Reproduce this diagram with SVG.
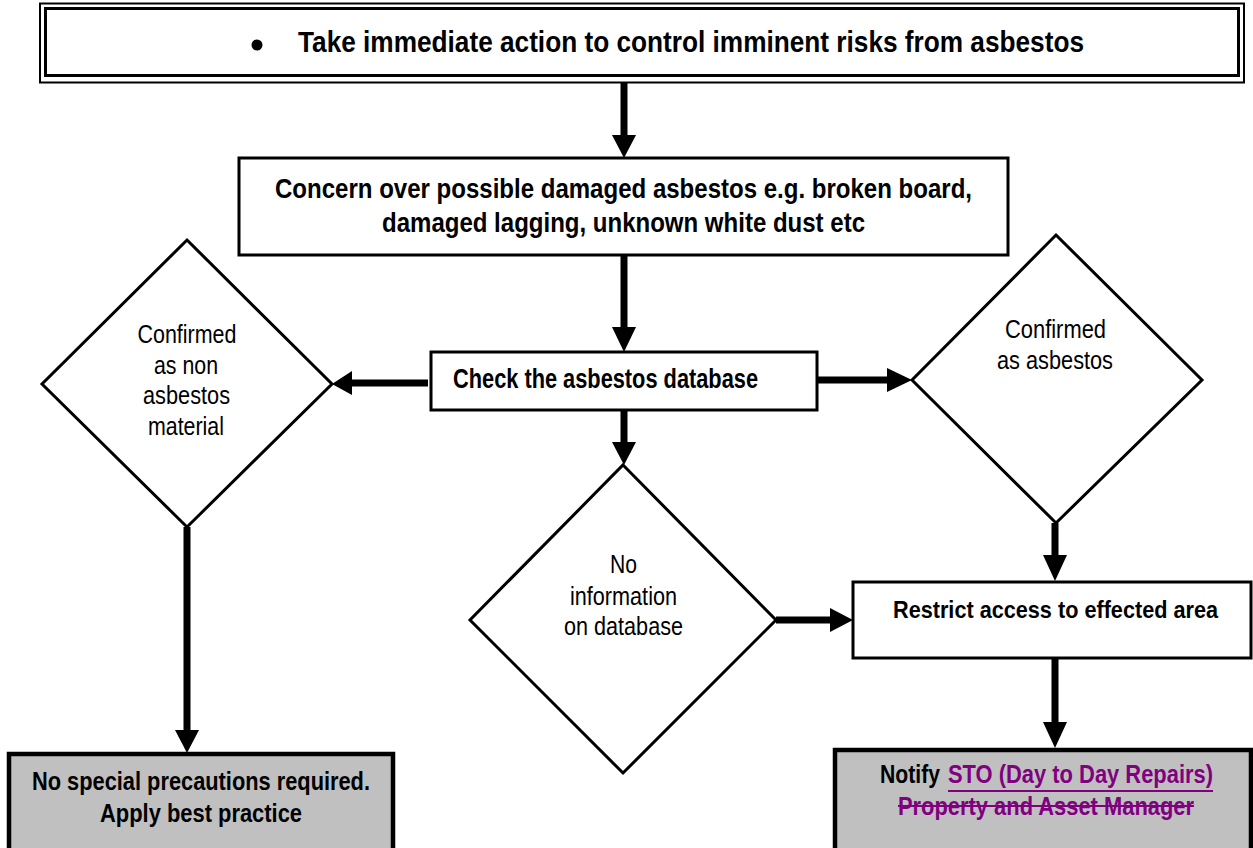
<svg xmlns="http://www.w3.org/2000/svg" width="1253" height="848" viewBox="0 0 1253 848">
<style>
.box{fill:#fff;stroke:#000;stroke-width:3}
.grey{fill:#c0c0c0;stroke:#000;stroke-width:4.5}
.dia{fill:#fff;stroke:#000;stroke-width:3}
.b{font-family:"Liberation Sans Narrow","Liberation Sans",Arial,sans-serif;font-weight:bold;fill:#000}
.r{font-family:"Liberation Sans Narrow","Liberation Sans",Arial,sans-serif;fill:#000}
.ln{stroke:#000;stroke-width:7;fill:none}
.hd{fill:#000;stroke:none}
.pu{fill:#800080}
</style>
<rect width="1253" height="848" fill="#fff"/>
<g id="node-top">
<rect x="40" y="3.5" width="1204" height="79" fill="#fff" stroke="#000" stroke-width="2"/>
<rect x="45.5" y="8.5" width="1193" height="67" fill="none" stroke="#000" stroke-width="3"/>
<circle cx="257" cy="45" r="5.5" fill="#000"/>
<text class="b" x="298" y="52" font-size="30" textLength="786" lengthAdjust="spacingAndGlyphs">Take immediate action to control imminent risks from asbestos</text>
</g>
<g id="node-concern">
<rect class="box" x="239" y="158" width="769" height="97"/>
<text class="b" x="275" y="198" font-size="28" textLength="697" lengthAdjust="spacingAndGlyphs">Concern over possible damaged asbestos e.g. broken board,</text>
<text class="b" x="382" y="232" font-size="28" textLength="483" lengthAdjust="spacingAndGlyphs">damaged lagging, unknown white dust etc</text>
</g>
<g id="node-check">
<rect class="box" x="431" y="352" width="386" height="58"/>
<text class="b" x="453" y="388" font-size="27" textLength="305" lengthAdjust="spacingAndGlyphs">Check the asbestos database</text>
</g>
<g id="node-nonasbestos">
<polygon class="dia" points="187,240 332,384 187,527 42,384"/>
<text class="r" x="137.5" y="343" font-size="25" textLength="99" lengthAdjust="spacingAndGlyphs">Confirmed</text>
<text class="r" x="154" y="374" font-size="25" textLength="64" lengthAdjust="spacingAndGlyphs">as non</text>
<text class="r" x="143" y="404" font-size="25" textLength="87" lengthAdjust="spacingAndGlyphs">asbestos</text>
<text class="r" x="148" y="435" font-size="25" textLength="76" lengthAdjust="spacingAndGlyphs">material</text>
</g>
<g id="node-asbestos">
<polygon class="dia" points="1056,235 1202,380 1056,523 912,380"/>
<text class="r" x="1005" y="338" font-size="25" textLength="101" lengthAdjust="spacingAndGlyphs">Confirmed</text>
<text class="r" x="997" y="369" font-size="25" textLength="116" lengthAdjust="spacingAndGlyphs">as asbestos</text>
</g>
<g id="node-noinfo">
<polygon class="dia" points="623,465 776,620 623,773 470,620"/>
<text class="r" x="610" y="573" font-size="25" textLength="27" lengthAdjust="spacingAndGlyphs">No</text>
<text class="r" x="570" y="605" font-size="25" textLength="107" lengthAdjust="spacingAndGlyphs">information</text>
<text class="r" x="564" y="635" font-size="25" textLength="119" lengthAdjust="spacingAndGlyphs">on database</text>
</g>
<g id="node-restrict">
<rect class="box" x="853" y="582" width="398" height="76"/>
<text class="b" x="893" y="618" font-size="24" textLength="325" lengthAdjust="spacingAndGlyphs">Restrict access to effected area</text>
</g>
<g id="node-noprecautions">
<rect class="grey" x="9" y="754" width="384" height="100"/>
<text class="b" x="32" y="790" font-size="25" textLength="338" lengthAdjust="spacingAndGlyphs">No special precautions required.</text>
<text class="b" x="100" y="822" font-size="25" textLength="202" lengthAdjust="spacingAndGlyphs">Apply best practice</text>
</g>
<g id="node-notify">
<rect class="grey" x="835" y="750" width="416" height="104"/>
<text class="b" x="880" y="783" font-size="25" textLength="60" lengthAdjust="spacingAndGlyphs">Notify</text>
<text class="b pu" x="948" y="783" font-size="25" textLength="265" lengthAdjust="spacingAndGlyphs">STO (Day to Day Repairs)</text>
<rect class="pu" x="948" y="790" width="265" height="2"/>
<text class="b pu" x="898" y="815" font-size="25" textLength="296" lengthAdjust="spacingAndGlyphs">Property and Asset Manager</text>
<rect class="pu" x="898" y="805" width="296" height="2"/>
</g>
<g id="connectors">
<line class="ln" x1="624" y1="83" x2="624" y2="138"/>
<polygon class="hd" points="612,135 636,135 624,158"/>
<line class="ln" x1="624" y1="255" x2="624" y2="330"/>
<polygon class="hd" points="612,327 636,327 624,352"/>
<line class="ln" x1="624" y1="410" x2="624" y2="445"/>
<polygon class="hd" points="612,442 636,442 624,465"/>
<line class="ln" x1="428" y1="383" x2="349" y2="383"/>
<polygon class="hd" points="352,371 352,395 332,384"/>
<line class="ln" x1="817" y1="380" x2="890" y2="380"/>
<polygon class="hd" points="887,368 887,392 912,380"/>
<line class="ln" x1="776" y1="620" x2="833" y2="620"/>
<polygon class="hd" points="830,608 830,632 853,620"/>
<line class="ln" x1="1055" y1="523" x2="1055" y2="558"/>
<polygon class="hd" points="1043,555 1067,555 1055,581"/>
<line class="ln" x1="1055" y1="658" x2="1055" y2="725"/>
<polygon class="hd" points="1043,722 1067,722 1055,748"/>
<line class="ln" x1="187" y1="527" x2="187" y2="733"/>
<polygon class="hd" points="175,730 199,730 187,753"/>
</g>
</svg>
